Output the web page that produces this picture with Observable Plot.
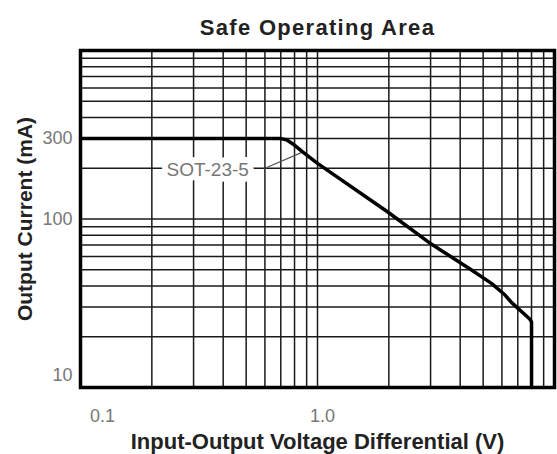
<!DOCTYPE html>
<html><head><meta charset="utf-8">
<script src="https://cdn.jsdelivr.net/npm/d3@7"></script>
<script src="https://cdn.jsdelivr.net/npm/@observablehq/plot@0.6"></script>
<style>html,body{margin:0;padding:0;background:#fff} svg{display:block}</style>
</head><body><div id="chart"></div>
<script>
const title = "Safe Operating Area";
const xLabel = "Input-Output Voltage Differential (V)";
const yLabel = "Output Current (mA)";

// SOA boundary (V, mA)
const voltage = [0.1, 0.7, 0.74, 0.79, 0.86, 1.0, 1.98, 3.02, 4.45, 5.42, 6.17, 6.58, 7.86, 8.0, 8.0];
const current = [300, 300, 295, 278, 252, 214, 110, 71, 50, 41.5, 35.5, 32, 25.5, 24.5, 10];

// grid
const xGrid = [0.2, 0.3, 0.4, 0.5, 0.6, 0.7, 0.8, 0.9, 1, 2, 3, 4, 5, 6, 7, 8, 9];
const yGrid = [20, 30, 40, 50, 60, 70, 80, 90, 100, 200, 300, 400, 500, 600, 700, 800, 900];

// tick labels
const xTicks = [0.1, 1, 8];
const xTickLabels = ["0.1", "1.0", "8.0"];
const yTicks = [300, 100, 10];
const yTickLabels = ["300", "100", "10"];

// annotation
const seriesName = "SOT-23-5";
const labelV = [0.344];
const labelI = [200];
const leaderV = [0.6, 0.85];
const leaderI = [200, 247];

const curve = voltage.map((v, i) => ({v, i: current[i]}));
const leader = leaderV.map((v, k) => ({v, i: leaderI[k]}));
const labelData = labelV.map((v, k) => ({v, i: labelI[k], t: seriesName}));

const xFmt = d => xTickLabels[xTicks.indexOf(d)];
const yFmt = d => yTickLabels[yTicks.indexOf(d)];
const tickStyle = {tickSize: 0, fontSize: 18, fill: "#777", label: null};

const chart = Plot.plot({
  width: 557, height: 454,
  marginTop: 50, marginRight: 3, marginBottom: 67, marginLeft: 80,
  x: {type: "log", domain: [0.1, 10]},
  y: {type: "log", domain: [10, 1000]},
  style: {fontFamily: "'Liberation Sans', Arial, sans-serif", background: "#fff", overflow: "visible"},
  marks: [
    Plot.ruleX(xGrid, {stroke: "#1a1a1a", strokeWidth: 1.5}),
    Plot.ruleY(yGrid, {stroke: "#1a1a1a", strokeWidth: 1.5}),
    Plot.text(labelData, {x: "v", y: "i", text: "t", fontSize: 19, fill: "#777", stroke: "white", strokeWidth: 12, dy: 2}),
    Plot.line(leader, {x: "v", y: "i", stroke: "#555", strokeWidth: 1.2}),
    Plot.frame({stroke: "#000", strokeWidth: 3.5}),
    Plot.line(curve, {x: "v", y: "i", stroke: "#000", strokeWidth: 3.5, strokeLinejoin: "round"}),
    Plot.axisY([300, 100], {...tickStyle, tickPadding: 8, tickFormat: yFmt}),
    Plot.axisY([10], {...tickStyle, tickPadding: 8, tickFormat: yFmt, dy: -12}),
    Plot.axisX([0.1], {...tickStyle, tickPadding: 22, tickFormat: xFmt, dx: 22}),
    Plot.axisX([1], {...tickStyle, tickPadding: 22, tickFormat: xFmt, dx: 5}),
    Plot.axisX([8], {...tickStyle, tickPadding: 22, tickFormat: xFmt, dx: -2.5}),
    Plot.text([title], {frameAnchor: "top", lineAnchor: "middle", dy: -23, fontSize: 22, fontWeight: "bold", fill: "#222"}),
    Plot.text([xLabel], {frameAnchor: "bottom", lineAnchor: "middle", dy: 54.5, fontSize: 22, fontWeight: "bold", fill: "#222"}),
    Plot.text([yLabel], {frameAnchor: "left", textAnchor: "middle", lineAnchor: "middle", dx: -55, rotate: -90, fontSize: 21, fontWeight: "bold", fill: "#222"})
  ]
});
d3.select(chart).selectAll("text").filter(function () { return this.textContent === title; })
  .attr("letter-spacing", "1.3px");
document.getElementById("chart").appendChild(chart);
</script>
</body></html>
